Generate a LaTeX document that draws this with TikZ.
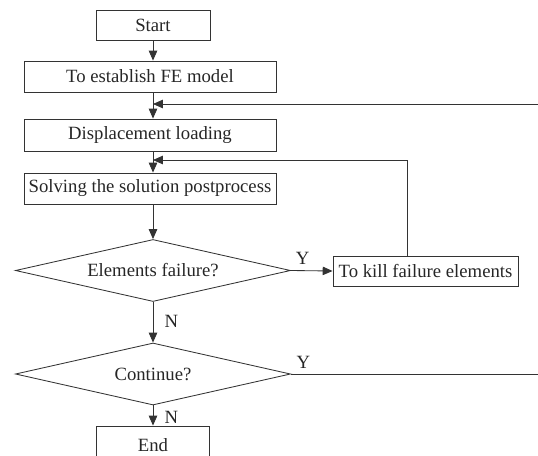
\documentclass[tikz,border=0pt]{standalone}
\usepackage{fontspec}
\setmainfont{Liberation Serif}
\usetikzlibrary{shapes.geometric,arrows.meta}
\begin{document}
\begin{tikzpicture}[x=0.025cm,y=-0.025cm,
  font=\fontsize{13.3}{15}\selectfont,text=black!85,
  box/.style={draw=black!80,line width=0.6pt,rectangle,inner sep=0pt},
  dec/.style={draw=black!80,line width=0.6pt,diamond,aspect=4.4,inner sep=0pt,
    minimum width=6.875cm,minimum height=1.55cm},
  flow/.style={draw=black!80,line width=0.6pt},
  arr/.style={flow,-{Triangle[length=7pt,width=6pt]}},
  lab/.style={inner sep=0pt}]
\useasboundingbox (0,0) rectangle (538,455);
\clip (0,0) rectangle (538,455);

\node[box,minimum width=2.85cm,minimum height=0.75cm] (start) at (153,25) {Start};
\node[box,minimum width=6.3cm,minimum height=0.775cm] (fe) at (150,76.5) {To establish FE model};
\node[box,minimum width=6.3cm,minimum height=0.8cm] (disp) at (150,135) {Displacement loading};
\node[box,minimum width=6.3cm,minimum height=0.775cm] (solve) at (150,188.5) {Solving the solution postprocess};
\node[dec] (fail) at (153,270.5) {Elements failure?};
\node[box,minimum width=4.625cm,minimum height=0.75cm] (kill) at (425.5,271) {To kill failure elements};
\node[dec] (cont) at (153,374) {Continue?};
\node[box,minimum width=2.825cm,minimum height=0.95cm] (end) at (153,445) {End};

\coordinate (j1) at (153,104);
\coordinate (j2) at (153,160);
\coordinate (k) at (407,160);
\coordinate (r1) at (538,104);
\coordinate (r2) at (538,374);

\draw[arr] (start.south) -- (start.south |- fe.north);
\draw[arr] (start.south |- fe.south) -- (start.south |- disp.north);
\draw[arr] (start.south |- disp.south) -- (start.south |- solve.north);
\draw[arr] (start.south |- solve.south) -- (fail.north);
\draw[arr] (fail.south) -- (cont.north) node[lab,pos=0.49,right,xshift=0.28cm] {N};
\draw[arr] (cont.south) -- (end.north) node[lab,pos=0.57,right,xshift=0.28cm] {N};
\draw[arr] (fail.east) -- (kill.west) node[lab,pos=0.28,above=0.15cm] {Y};
\draw[arr] (kill.north -| k) -- (k) -- (j2);
\draw[flow] (cont.east) -- (r2) node[lab,pos=0.05,above=0.12cm] {Y};
\draw[arr] (r1) -- (j1);
\end{tikzpicture}
\end{document}
